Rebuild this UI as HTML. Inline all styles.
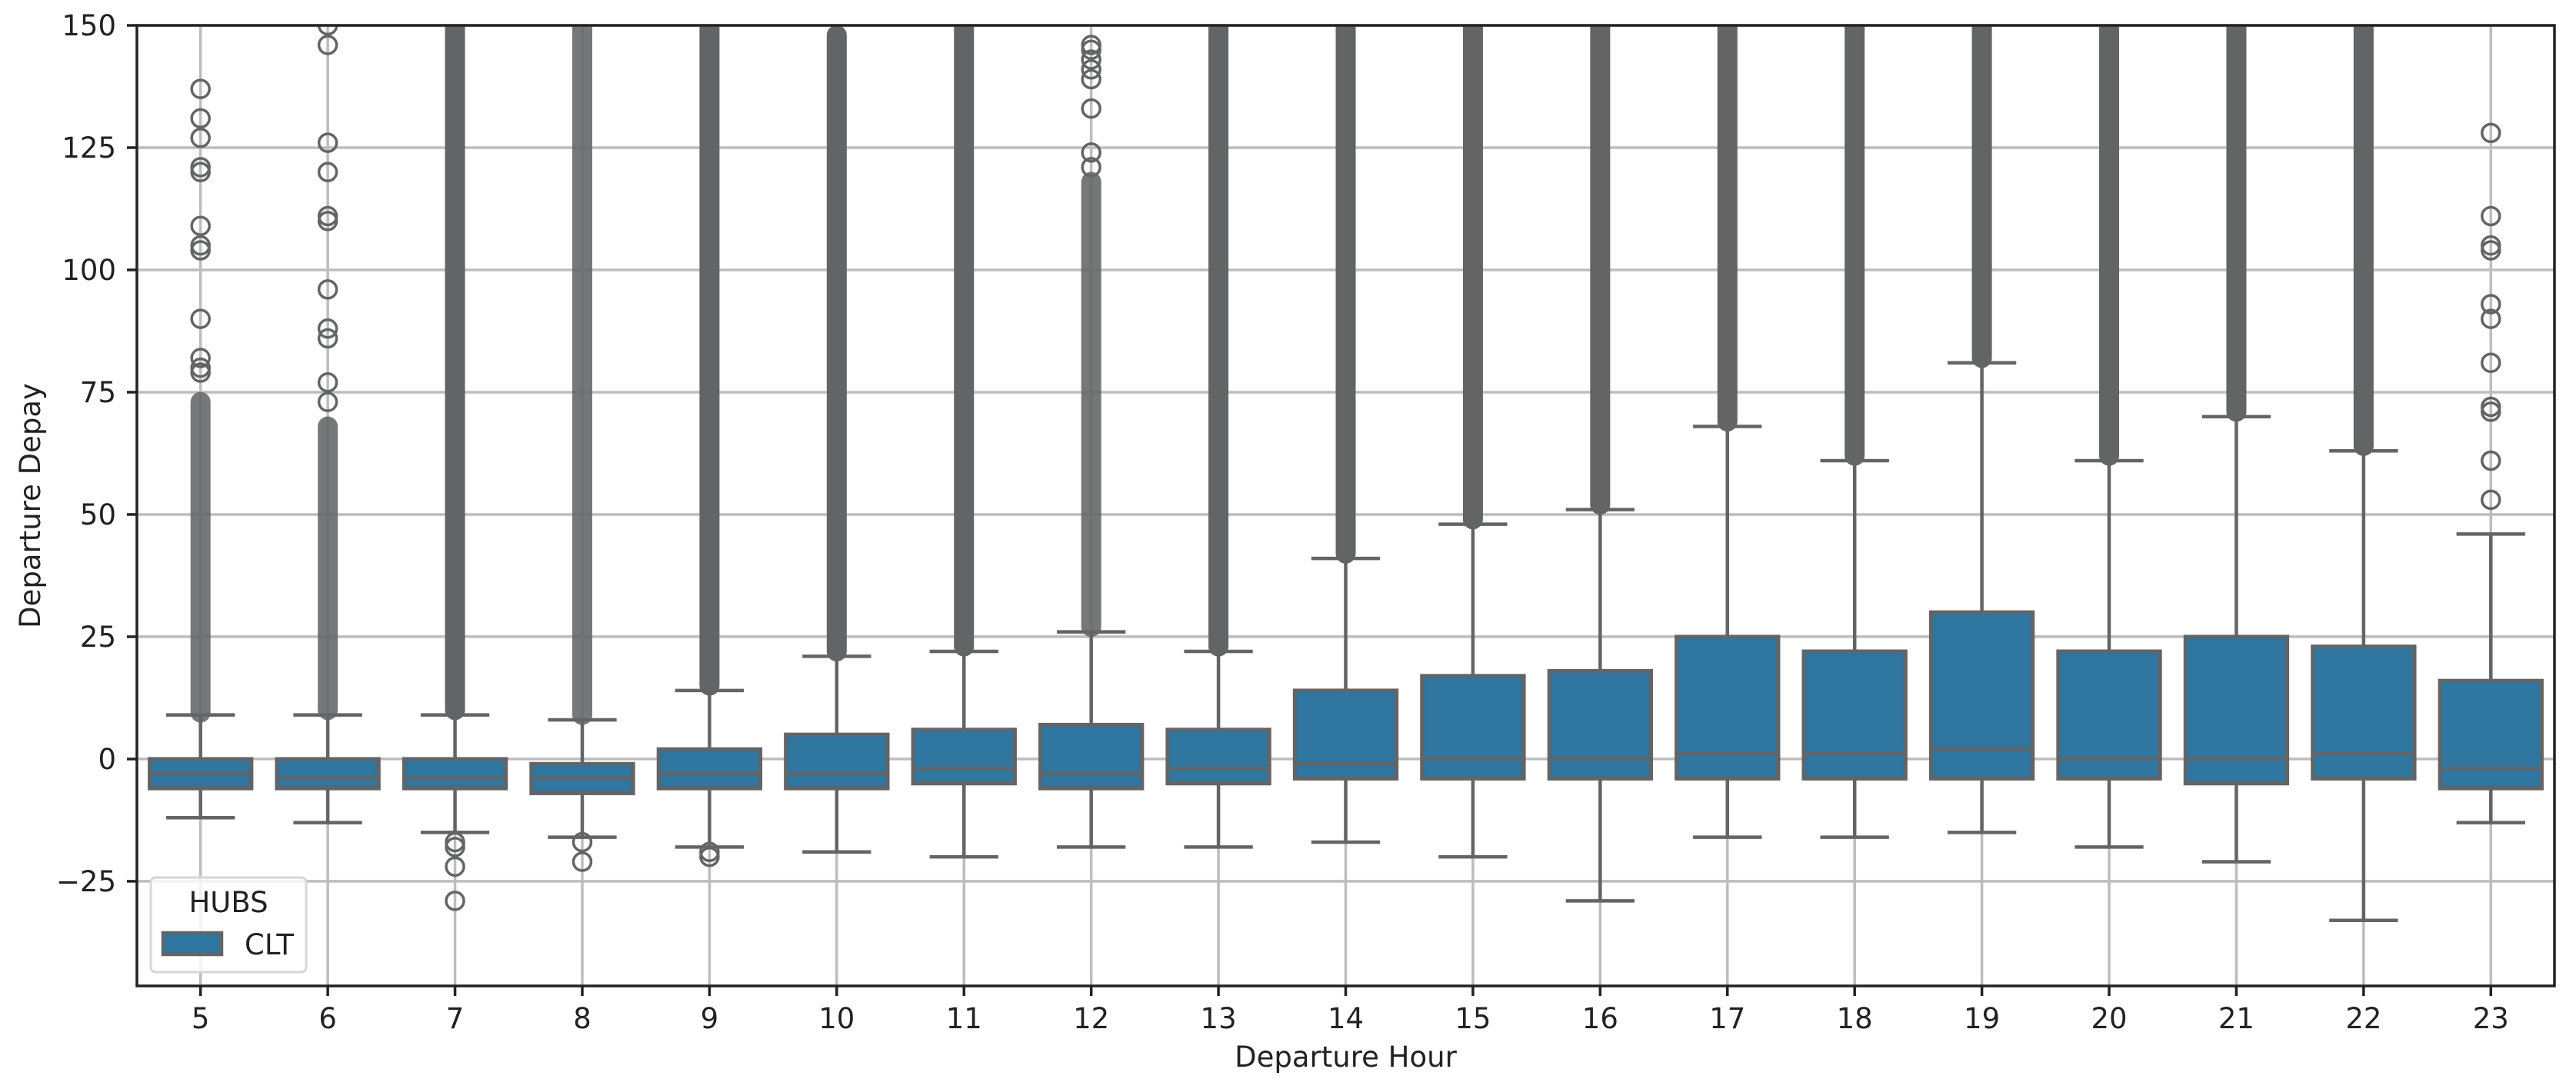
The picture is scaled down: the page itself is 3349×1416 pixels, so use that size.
<!DOCTYPE html>
<html><head><meta charset="utf-8"><style>
html,body{margin:0;padding:0;background:#fff;}
svg{display:block;font-family:"DejaVu Sans","Liberation Sans",sans-serif;}
</style></head>
<body>
<svg id="chart" width="3349" height="1416" viewBox="0 0 3349 1416" xmlns="http://www.w3.org/2000/svg">
<defs><clipPath id="plotclip"><rect x="178" y="33" width="3143" height="1249"/></clipPath></defs>
<rect x="0" y="0" width="3349" height="1416" fill="#fff"/>
<g id="grid"></g>
<g id="boxes" clip-path="url(#plotclip)"></g>
<g id="axes"></g>
</svg>
<script>
const hours = [5,6,7,8,9,10,11,12,13,14,15,16,17,18,19,20,21,22,23];
const q1 = [-6,-6,-6,-7,-6,-6,-5,-6,-5,-4,-4,-4,-4,-4,-4,-4,-5,-4,-6];
const medians = [-3,-4,-4,-4,-3,-3,-2,-3,-2,-1,0,0,1,1,2,0,0,1,-2];
const q3 = [0,0,0,-1,2,5,6,7,6,14,17,18,25,22,30,22,25,23,16];
const whiskerLow = [-12,-13,-15,-16,-18,-19,-20,-18,-18,-17,-20,-29,-16,-16,-15,-18,-21,-33,-13];
const whiskerHigh = [9,9,9,8,14,21,22,26,22,41,48,51,68,61,81,61,70,63,46];
const denseFrom = [9.5,10,10,9,15,22,23,27,23,42,49,52,69,62,82,62,71,64,null];
const denseTo = [73,68,155,155,155,148,155,118,155,155,155,155,155,155,155,155,155,155,null];
const outliers = [
 [137,131,127,121,120,109,105,104,90,82,80,79],
 [150,146,126,120,111,110,96,88,86,77,73],
 [-17,-18,-22,-29],
 [-17,-21],
 [-19,-20],
 [],[],
 [146,145,143,141,139,133,124,121],
 [],[],[],[],[],[],[],[],[],[],
 [128,111,105,104,93,90,81,72,71,61,53]
];
const yTicks = [-25,0,25,50,75,100,125,150];

const NS = "http://www.w3.org/2000/svg";
const L = 178, R = 3321, T = 33, B = 1282;
const yMin = -46.4, yMax = 150;
const xPos = i => L + (i + 0.5) * (R - L) / hours.length;
const yPos = v => T + (yMax - v) * (B - T) / (yMax - yMin);
const step = (R - L) / hours.length;
function mk(tag, attrs, parent){const e=document.createElementNS(NS,tag);for(const k in attrs)e.setAttribute(k,attrs[k]);parent.appendChild(e);return e;}
const grid = document.getElementById('grid'), boxes = document.getElementById('boxes'), axes = document.getElementById('axes');
const LC = '#636466';
const lighterBands = [5,6,8,12];

yTicks.forEach(t => {
  const y = yPos(t);
  const g = mk('line',{x1:L,x2:R,y1:y,y2:y,stroke:'#bdbdbd','stroke-width':3.5},grid);
  
  
  const tk = mk('line',{x1:L-13,x2:L,y1:y,y2:y,stroke:'#222','stroke-width':3.5},axes);
  
  
  const tx = mk('text',{x:L-27,y:y+13,'text-anchor':'end','font-size':37,fill:'#222'},axes);
  tx.textContent = t < 0 ? '\u2212' + Math.abs(t) : String(t);
  
  
});
hours.forEach((h,i) => {
  const x = xPos(i);
  const g = mk('line',{x1:x,x2:x,y1:T,y2:B,stroke:'#bdbdbd','stroke-width':3.5},grid);
  
  
  const tk = mk('line',{x1:x,x2:x,y1:B,y2:B+13,stroke:'#222','stroke-width':3.5},axes);
  
  
  const tx = mk('text',{x:x,y:1337,'text-anchor':'middle','font-size':37,fill:'#222'},axes);
  tx.textContent = String(h);
  
  

  const g2 = mk('g',{},boxes);
  
  
  const hw = step * 0.4, cw = step * 0.27;
  mk('line',{x1:x,x2:x,y1:yPos(q3[i]),y2:yPos(whiskerHigh[i]),stroke:LC,'stroke-width':4.5},g2);
  mk('line',{x1:x,x2:x,y1:yPos(q1[i]),y2:yPos(whiskerLow[i]),stroke:LC,'stroke-width':4.5},g2);
  mk('line',{x1:x-cw,x2:x+cw,y1:yPos(whiskerHigh[i]),y2:yPos(whiskerHigh[i]),stroke:LC,'stroke-width':4.5},g2);
  mk('line',{x1:x-cw,x2:x+cw,y1:yPos(whiskerLow[i]),y2:yPos(whiskerLow[i]),stroke:LC,'stroke-width':4.5},g2);
  if (denseFrom[i] !== null) {
    const y1 = yPos(denseTo[i]) - 13, y2 = yPos(denseFrom[i]) + 13;
    const d = mk('rect',{x:x-13,y:y1,width:26,height:y2-y1,rx:13,fill:LC,'fill-opacity':lighterBands.includes(h)?0.88:1},g2);
    
    
  }
  outliers[i].forEach(v => {
    const c = mk('circle',{cx:x,cy:yPos(v),r:11.5,fill:'none',stroke:LC,'stroke-width':3.5},g2);
    
    
  });
  const bx = mk('rect',{x:x-hw,y:yPos(q3[i]),width:2*hw,height:yPos(q1[i])-yPos(q3[i]),fill:'#2e75a0',stroke:LC,'stroke-width':5},g2);
  
  
  const md = mk('line',{x1:x-hw,x2:x+hw,y1:yPos(medians[i]),y2:yPos(medians[i]),stroke:LC,'stroke-width':4.5},g2);
  
  
});
const fr = mk('rect',{x:L,y:T,width:R-L,height:B-T,fill:'none',stroke:'#222','stroke-width':3.5},axes);


const xl = mk('text',{x:(L+R)/2,y:1387,'text-anchor':'middle','font-size':37,fill:'#222'},axes);
xl.textContent = 'Departure Hour';


const yl = mk('text',{x:0,y:0,'text-anchor':'middle','font-size':37,fill:'#222',transform:'translate(52,'+((T+B)/2)+') rotate(-90)'},axes);
yl.textContent = 'Departure Depay';


const lg = mk('g',{},axes);


mk('rect',{x:196,y:1141,width:202,height:123,rx:6,fill:'#fff','fill-opacity':0.8,stroke:'#d6d6d6','stroke-width':3},lg);
const lt = mk('text',{x:297,y:1186,'text-anchor':'middle','font-size':37,fill:'#222'},lg);
lt.textContent = 'HUBS';


const lp = mk('rect',{x:212,y:1213,width:76,height:28,fill:'#2e75a0',stroke:LC,'stroke-width':4.5},lg);


const ll = mk('text',{x:318,y:1241,'font-size':37,fill:'#222'},lg);
ll.textContent = 'CLT';


</script>
</body></html>
